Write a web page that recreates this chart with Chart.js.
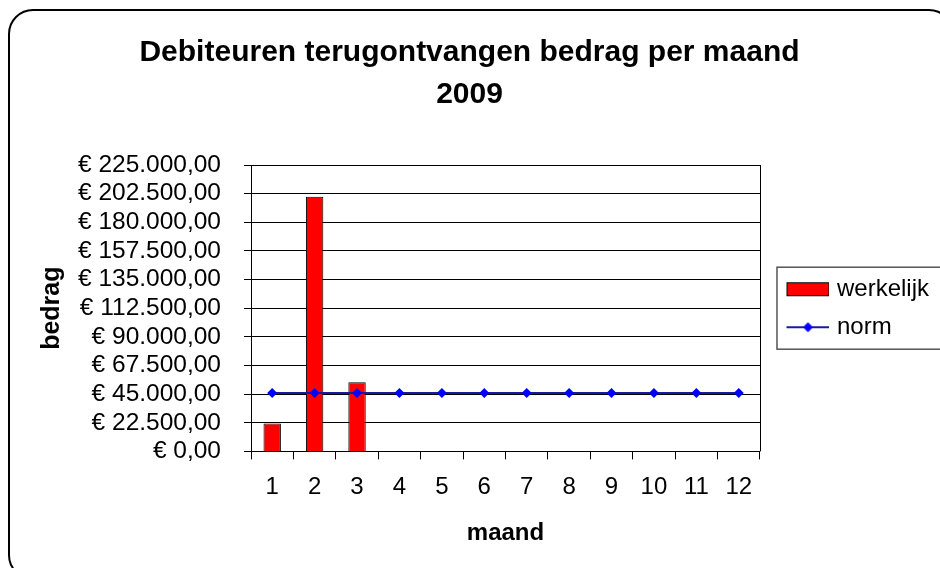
<!DOCTYPE html>
<html>
<head>
<meta charset="utf-8">
<script src="https://cdn.jsdelivr.net/npm/chart.js@4/dist/chart.umd.min.js"></script>
<style>
  html, body { margin: 0; padding: 0; background: #fff; overflow: hidden; }
  #wrap { position: relative; width: 940px; height: 568px; }
  #frame {
    position: absolute; left: 8px; top: 9px; width: 942px; height: 567px;
    border: 2px solid #000; border-radius: 25px; pointer-events: none;
  }
</style>
</head>
<body>
<div id="wrap">
  <canvas id="chart" width="940" height="568"></canvas>
  <div id="frame"></div>
</div>
<script>
  const months = ['1', '2', '3', '4', '5', '6', '7', '8', '9', '10', '11', '12'];
  const werkelijk = [22000, 200000, 54300, null, null, null, null, null, null, null, null, null];
  const norm = [45800, 45800, 45800, 45800, 45800, 45800, 45800, 45800, 45800, 45800, 45800, 45800];
  const yMax = 225000;
  const yStep = 22500;

  const FONT = "'Liberation Sans', Arial, sans-serif";

  // euro format, dutch style: € 225.000,00
  function formatEuro(value) {
    const [intPart, dec] = Number(value).toFixed(2).split('.');
    const grouped = intPart.replace(/\B(?=(\d{3})+(?!\d))/g, '.');
    return `€ ${grouped},${dec}`;
  }

  // legend symbols as little canvases
  function makeBarSymbol() {
    const c = document.createElement('canvas');
    c.width = 60; c.height = 16;
    const g = c.getContext('2d');
    g.fillStyle = '#ff0000';
    g.fillRect(17.5, 1.5, 42, 13);
    g.strokeStyle = '#000';
    g.lineWidth = 1;
    g.strokeRect(17.5, 1.5, 42, 13);
    return c;
  }

  function makeLineSymbol() {
    const c = document.createElement('canvas');
    c.width = 60; c.height = 16;
    const g = c.getContext('2d');
    g.strokeStyle = '#1a1a9e';
    g.lineWidth = 2;
    g.beginPath();
    g.moveTo(17, 8);
    g.lineTo(60, 8);
    g.stroke();
    g.fillStyle = '#0000ff';
    g.beginPath();
    g.moveTo(38.5, 3);
    g.lineTo(43.5, 8);
    g.lineTo(38.5, 13);
    g.lineTo(33.5, 8);
    g.closePath();
    g.fill();
    return c;
  }

  const legendSymbols = [makeBarSymbol(), makeLineSymbol()];

  // box round the legend + right edge of the plot
  const frames = {
    id: 'frames',
    afterDraw(chart) {
      const ctx = chart.ctx;
      const area = chart.chartArea;
      ctx.save();
      ctx.strokeStyle = '#000';
      ctx.lineWidth = 1;
      ctx.beginPath();
      ctx.moveTo(Math.round(area.right) + 0.5, area.top);
      ctx.lineTo(Math.round(area.right) + 0.5, area.bottom);
      ctx.stroke();

      const legend = chart.legend;
      if (legend && legend.legendHitBoxes.length) {
        const boxes = legend.legendHitBoxes;
        const first = boxes[0];
        const last = boxes[boxes.length - 1];
        const y = first.top - 10;
        const h = last.top + last.height + 10 - y;
        ctx.strokeStyle = '#555';
        ctx.lineWidth = 1.5;
        ctx.strokeRect(first.left + 3, y, 200, h);
      }
      ctx.restore();
    }
  };

  new Chart(document.getElementById('chart').getContext('2d'), {
    data: {
      labels: months,
      datasets: [
        {
          type: 'line',
          label: 'norm',
          data: norm,
          borderColor: '#1a1a9e',
          borderWidth: 2,
          pointStyle: 'rectRot',
          pointRadius: 5,
          pointBackgroundColor: '#0000ff',
          pointBorderColor: '#0000ff',
          pointBorderWidth: 0,
          tension: 0,
          order: 1
        },
        {
          type: 'bar',
          label: 'werkelijk',
          data: werkelijk,
          backgroundColor: '#ff0000',
          borderColor: '#000',
          borderWidth: 1,
          barPercentage: 0.41,
          categoryPercentage: 1,
          order: 2
        }
      ]
    },
    options: {
      responsive: false,
      animation: false,
      layout: { padding: { left: 0, right: 1, top: 20, bottom: 20 } },
      plugins: {
        title: {
          display: true,
          text: ['Debiteuren terugontvangen bedrag per maand', '2009'],
          color: '#000',
          font: { family: FONT, size: 30, weight: 'bold', lineHeight: 1.4 },
          padding: { top: 12, bottom: 49 }
        },
        legend: {
          position: 'right',
          fullSize: false,
          labels: {
            color: '#000',
            font: { family: FONT, size: 24 },
            usePointStyle: true,
            pointStyleWidth: 51,
            padding: 14,
            generateLabels() {
              const names = ['werkelijk', 'norm'];
              return names.map((name, i) => ({
                text: name,
                pointStyle: legendSymbols[i],
                fillStyle: 'transparent',
                strokeStyle: 'transparent',
                lineWidth: 0,
                hidden: false,
                datasetIndex: i === 0 ? 1 : 0
              }));
            }
          }
        },
        tooltip: { enabled: false }
      },
      scales: {
        x: {
          offset: true,
          grid: {
            offset: true,
            drawOnChartArea: false,
            color: '#000',
            tickLength: 8
          },
          border: { color: '#000', width: 1 },
          ticks: {
            color: '#000',
            font: { family: FONT, size: 24 },
            padding: 14,
            maxRotation: 0,
            autoSkip: false
          },
          title: {
            display: true,
            text: 'maand',
            color: '#000',
            font: { family: FONT, size: 24, weight: 'bold' },
            padding: { top: 3, bottom: 0 }
          }
        },
        y: {
          min: 0,
          max: yMax,
          afterFit: scale => { scale.width = 251; },
          grid: { color: '#000', tickLength: 7 },
          border: { color: '#000', width: 1 },
          ticks: {
            stepSize: yStep,
            autoSkip: false,
            color: '#000',
            font: { family: FONT, size: 24.5 },
            padding: 23,
            callback: value => formatEuro(value)
          },
          title: {
            display: true,
            text: 'bedrag',
            color: '#000',
            font: { family: FONT, size: 25, weight: 'bold' },
            padding: { top: 37, bottom: 0 }
          }
        }
      }
    },
    plugins: [frames]
  });
</script>
</body>
</html>
